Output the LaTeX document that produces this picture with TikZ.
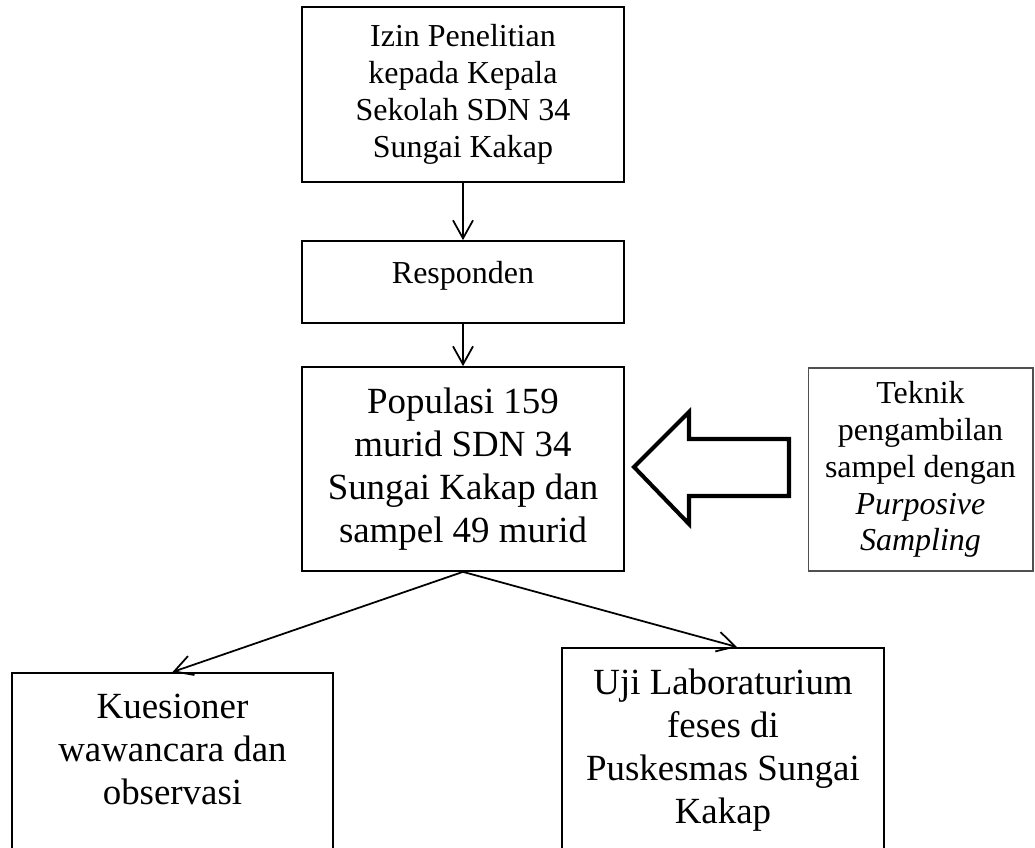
\documentclass[tikz,border=0pt]{standalone}
\usepackage{fontspec}
\setmainfont{Liberation Serif}
\usetikzlibrary{arrows.meta}

\begin{document}
\begin{tikzpicture}[x = 0.02cm, y = -0.02cm]
            % \draw [help lines, step = 50] (0,0) grid (1035,848);
            \useasboundingbox (0,0) rectangle (1035,848);
            \clip (0,0) rectangle (1035,848);

            \tikzset{
                box/.style = {draw, line width = 1pt, align = center, inner sep = 0pt},
                smallText/.style = {font = \fontsize{18.2}{21}\selectfont},
                bigText/.style = {font = \fontsize{21}{24.5}\selectfont},
                flowArrow/.style = {-{Straight Barb[length = 0.36cm, width = 0.4cm]}, line width = 1pt}
            }

            \node [box, smallText, minimum width = 6.44cm, minimum height = 3.5cm] (izin) at (463,94.5) {Izin Penelitian\\kepada Kepala\\Sekolah SDN 34\\Sungai Kakap};

            \node [box, smallText, minimum width = 6.44cm, minimum height = 1.64cm, text depth = 0.4cm] (resp) at (463,282) {Responden};

            \node [box, bigText, minimum width = 6.44cm, minimum height = 4.08cm] (pop) at (463,469) {Populasi 159\\murid SDN 34\\Sungai Kakap dan\\sampel 49 murid};

            \definecolor{edgeGray}{RGB}{80,80,80};
            \node [box, smallText, draw = edgeGray, line width = 0.6pt, minimum width = 4.5cm, minimum height = 4.06cm] (teknik) at (920.5,469.5) {Teknik\\pengambilan\\sampel dengan\\\textit{Purposive}\\\textit{Sampling}};

            % boxes at the bottom run off the page
            \node [box, bigText, anchor = north, minimum width = 6.42cm, inner ysep = 0.42cm, text depth = 5cm] (kues) at (172.5,672) {Kuesioner\\wawancara dan\\observasi};
            \node [box, bigText, anchor = north, minimum width = 6.44cm, inner ysep = 0.42cm, text depth = 5cm] (uji) at (723,647) {Uji Laboraturium\\feses di\\Puskesmas Sungai\\Kakap};

            \draw [flowArrow] (izin) -- (resp);
            \draw [flowArrow] (resp) -- (pop);
            \draw [flowArrow] (pop.south) -- (kues.north);
            \draw [flowArrow] (pop.south) -- ([xshift = 0.28cm]uji.north);

            % big hollow arrow
            \draw [line width = 2.3pt] (634,467) -- (689,412) -- (689,439) -- (789,439) -- (789,496) -- (689,496) -- (689,524) -- cycle;

\end{tikzpicture}
\end{document}
